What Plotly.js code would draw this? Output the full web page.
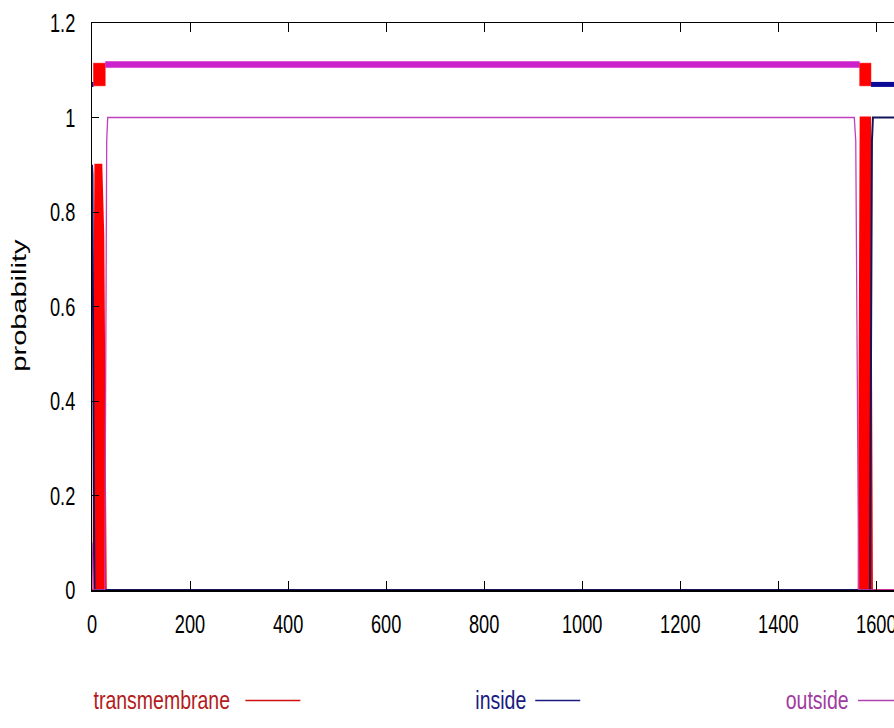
<!DOCTYPE html>
<html>
<head>
<meta charset="utf-8">
<script src="https://cdn.plot.ly/plotly-3.0.1.min.js"></script>
<style>
html,body{margin:0;padding:0;background:#fff;}
#chart{width:894px;height:728px;}
/* the reference image is stretched vertically: condense glyphs horizontally */
#chart text.annotation-text{transform-box:fill-box;transform-origin:right center;transform:scaleX(0.78);}
#chart text.ytitle{transform-box:fill-box;transform-origin:center;transform:translate(-4px,6px) rotate(-90deg) scaleX(1.45);}
</style>
</head>
<body>
<div id="chart"></div>
<script>
// Posterior probabilities along the sequence (residue, probability)
const tmX = [0, 3, 5, 7, 19, 23, 26, 28, 1564, 1566, 1568, 1587, 1589, 1591, 1636];
const tmY = [0, 0, 0.6, 0.9, 0.9, 0.75, 0.3, 0, 0, 0.6, 1.0, 1.0, 0.6, 0, 0];
const insideX = [0, 1, 3, 5, 1587, 1589, 1591, 1593, 1636];
const insideY = [0.9, 0.88, 0.35, 0, 0, 0.4, 0.95, 1, 1];
const outsideX = [0, 3, 26, 28, 30, 32, 1555, 1558, 1561, 1564, 1636];
const outsideY = [0.1, 0, 0, 0.45, 0.95, 1, 1, 0.95, 0.45, 0, 0];

// Predicted topology segments
const topoType = ['inside', 'TMhelix', 'outside', 'TMhelix', 'inside'];
const topoStart = [0, 3, 27, 1566, 1589];
const topoEnd = [3, 27, 1566, 1589, 1636];

// Legend entries
const legendNames = ['transmembrane', 'inside', 'outside'];

const xTicks = [0, 200, 400, 600, 800, 1000, 1200, 1400, 1600];
const yTicks = [0, 0.2, 0.4, 0.6, 0.8, 1, 1.2];
const yTickText = ['0', '0.2', '0.4', '0.6', '0.8', '1', '1.2'];

const RED = '#ff0000', BLUE = '#0a0a96', MAG = '#cc22cc';
const FONT = '"Liberation Sans", Arial, sans-serif';

const traces = [];
traces.push({x: tmX, y: tmY, mode: 'lines', fill: 'tozeroy', fillcolor: RED,
  line: {color: RED, width: 2}, hoverinfo: 'skip', showlegend: false});
traces.push({x: insideX, y: insideY, mode: 'lines', line: {color: '#14145a', width: 2},
  hoverinfo: 'skip', showlegend: false});
traces.push({x: outsideX, y: outsideY, mode: 'lines', line: {color: '#c040c0', width: 1.3},
  hoverinfo: 'skip', showlegend: false});

const TM_LO = 1.067, TM_HI = 1.115, OUT_Y = 1.112, IN_Y = 1.07;
topoType.forEach((t, i) => {
  const a = topoStart[i], b = topoEnd[i];
  if (t === 'TMhelix') {
    traces.push({x: [a, b, b, a, a], y: [TM_LO, TM_LO, TM_HI, TM_HI, TM_LO], mode: 'lines',
      fill: 'toself', fillcolor: RED, line: {color: RED, width: 0.5}, hoverinfo: 'skip', showlegend: false});
  } else if (t === 'outside') {
    traces.push({x: [a, b], y: [OUT_Y, OUT_Y], mode: 'lines', line: {color: MAG, width: 6.5},
      hoverinfo: 'skip', showlegend: false});
  } else {
    traces.push({x: [a, b], y: [IN_Y, IN_Y], mode: 'lines', line: {color: BLUE, width: 5},
      hoverinfo: 'skip', showlegend: false});
  }
});

const legendColors = ['#b31b1b', '#1a1a80', '#a03ca0'];
const legendLineColors = ['#d01010', '#1a1a80', '#b040b0'];
const legendTextRight = [232, 528, 851];
const legendLine = [[245, 300], [535, 580], [858, 905]];
const plotL = 91.5, plotW = 802.5, plotT = 23, plotH = 567.5;
const px2x = p => (p - plotL) / plotW;
const py2y = p => (plotT + plotH - p) / plotH;

const annotations = legendNames.map((n, i) => ({
  text: n, xref: 'paper', yref: 'paper', x: px2x(legendTextRight[i]), y: py2y(701),
  xanchor: 'right', yanchor: 'middle', showarrow: false,
  font: {family: FONT, size: 25, color: legendColors[i]}
}));
const shapes = legendNames.map((n, i) => ({
  type: 'line', xref: 'paper', yref: 'paper', x0: px2x(legendLine[i][0]), x1: px2x(legendLine[i][1]),
  y0: py2y(701), y1: py2y(701), line: {color: legendLineColors[i], width: 1.5}
}));

const layout = {
  width: 894, height: 728,
  margin: {l: plotL, r: 0, t: plotT, b: 728 - plotT - plotH, pad: 0},
  paper_bgcolor: '#ffffff', plot_bgcolor: '#ffffff',
  showlegend: false,
  xaxis: {range: [0, 1636], tickvals: xTicks, ticktext: xTicks.map(String),
    ticks: 'inside', ticklen: 9, tickwidth: 1, tickcolor: '#000',
    showline: true, linecolor: '#000', linewidth: 1.5, mirror: 'ticks',
    showgrid: false, zeroline: false, ticklabeloverflow: 'allow', ticklabelstandoff: 10,
    tickfont: {family: FONT, size: 26, color: '#000'}},
  yaxis: {range: [0, 1.2], tickvals: yTicks, ticktext: yTickText,
    ticks: 'inside', ticklen: 7, tickwidth: 1, tickcolor: '#000',
    showline: true, linecolor: '#000', linewidth: 1.5,
    showgrid: false, zeroline: false, ticklabelstandoff: 10,
    tickfont: {family: FONT, size: 26, color: '#000'},
    title: {text: 'probability', standoff: 10, font: {family: FONT, size: 20, color: '#000'}}},
  annotations: annotations,
  shapes: shapes
};

Plotly.newPlot('chart', traces, layout, {staticPlot: true, displayModeBar: false}).then(gd => {
  // condense tick label glyphs horizontally around their anchor point
  gd.querySelectorAll('g.xtick text, g.ytick text').forEach(t => {
    const ax = parseFloat(t.getAttribute('x')) || 0;
    const tr = t.getAttribute('transform') || '';
    t.setAttribute('transform', tr + ' translate(' + ax + ',0) scale(0.7,1) translate(' + (-ax) + ',0)');
  });
});
</script>
</body>
</html>
